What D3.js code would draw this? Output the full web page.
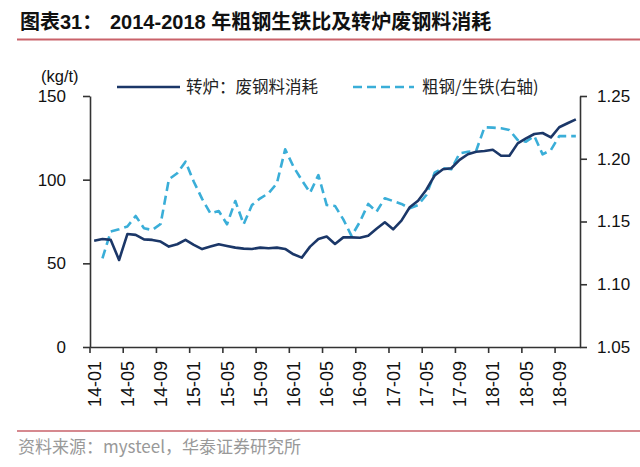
<!DOCTYPE html>
<html>
<head>
<meta charset="utf-8">
<script src="https://cdn.jsdelivr.net/npm/d3@7"></script>
<style>
  body { margin: 0; background: #fff; }
  svg { display: block; font-family: "Liberation Sans", Arial, "Noto Sans CJK SC", sans-serif; }
</style>
</head>
<body>
<svg id="chart" width="640" height="467"></svg>
<script>
const months = [
  "14-01","14-02","14-03","14-04","14-05","14-06","14-07","14-08","14-09","14-10","14-11","14-12",
  "15-01","15-02","15-03","15-04","15-05","15-06","15-07","15-08","15-09","15-10","15-11","15-12",
  "16-01","16-02","16-03","16-04","16-05","16-06","16-07","16-08","16-09","16-10","16-11","16-12",
  "17-01","17-02","17-03","17-04","17-05","17-06","17-07","17-08","17-09","17-10","17-11","17-12",
  "18-01","18-02","18-03","18-04","18-05","18-06","18-07","18-08","18-09","18-10","18-11"
];

// 转炉：废钢料消耗 (kg/t), left axis
const scrapUse = [
  63.5, 64.5, 64, 52, 67.5, 67, 64.3, 64, 63, 60, 61.4, 64,
  61, 58.5, 60, 61.4, 60.4, 59.4, 58.8, 58.6, 59.4, 59, 59.4, 58.6,
  55.4, 53.4, 60, 64.5, 66, 61.6, 65.5, 65.5, 65.3, 66.5, 70.7, 74.5,
  70.3, 75.5, 83.5, 87.4, 94, 102.5, 106.2, 106.8, 111.8, 115.2, 116.7, 117.1,
  117.9, 114.3, 114.3, 121.7, 124.7, 127.3, 127.9, 125.3, 131.3, 133.7, 136
];

// 粗钢/生铁, right axis
const steelIronRatio = [
  null, 1.1207, 1.142, 1.1438, 1.146, 1.1544, 1.1446, 1.1432, 1.148, 1.1836, 1.1884, 1.1977,
  1.1817, 1.168, 1.1565, 1.1584, 1.1478, 1.1663, 1.1478, 1.1631, 1.1685, 1.1725, 1.1804, 1.2075,
  1.1937, 1.183, 1.173, 1.187, 1.1631, 1.1624, 1.1517, 1.1384, 1.1498, 1.164, 1.1578, 1.1685,
  1.1663, 1.164, 1.1605, 1.1631, 1.1711, 1.1889, 1.1924, 1.1916, 1.2043, 1.2056, 1.2064, 1.2251,
  1.2248, 1.2243, 1.2229, 1.2149, 1.2136, 1.2181, 1.2035, 1.207, 1.218, 1.218, 1.218
];

const leftTicks = [0, 50, 100, 150];
const rightTicks = [1.05, 1.10, 1.15, 1.20, 1.25];
const xTickLabels = months.filter((m, i) => i % 4 === 0);

const solidColor = "#1b3768";
const dashColor = "#3aaed8";
const redLine = "#c9626a";

const svg = d3.select("#chart");
const plot = { left: 90, right: 580, top: 96, bottom: 347 };

const x = d3.scaleBand().domain(months).range([plot.left, plot.right]).padding(0);
const xc = (m) => x(m) + x.bandwidth() / 2;
const yL = d3.scaleLinear().domain([0, 150]).range([plot.bottom, plot.top]);
const yR = d3.scaleLinear().domain([1.05, 1.25]).range([plot.bottom, plot.top]);

// title
svg.append("text").attr("x", 20).attr("y", 29)
  .style("font-size", "20px").style("font-weight", "bold").attr("fill", "#111")
  .text("图表31：");
svg.append("text").attr("x", 110).attr("y", 29)
  .style("font-size", "20px").style("font-weight", "bold").attr("fill", "#111")
  .text("2014-2018 年粗钢生铁比及转炉废钢料消耗");
svg.append("line").attr("x1", 17).attr("x2", 640).attr("y1", 39.5).attr("y2", 39.5)
  .attr("stroke", redLine).attr("stroke-width", 2.2);

// axes
const axisColor = "#333";
const gL = svg.append("g").attr("transform", `translate(${plot.left},0)`)
  .call(d3.axisLeft(yL).tickValues(leftTicks).tickSize(7).tickSizeOuter(0).tickPadding(17));
const gR = svg.append("g").attr("transform", `translate(${plot.right},0)`)
  .call(d3.axisRight(yR).tickValues(rightTicks).tickSize(7).tickSizeOuter(0).tickPadding(10)
    .tickFormat(d3.format(".2f")));
const gX = svg.append("g").attr("transform", `translate(0,${plot.bottom})`)
  .call(d3.axisBottom(x).tickValues(xTickLabels).tickSize(6).tickSizeOuter(0));

gX.selectAll(".tick line").attr("x1", -x.bandwidth() / 2).attr("x2", -x.bandwidth() / 2);
gX.selectAll(".tick text")
  .attr("transform", "rotate(-90)")
  .attr("x", -14).attr("y", 0).attr("dy", "0.36em")
  .style("text-anchor", "end");

[gL, gR, gX].forEach((g) => {
  g.select(".domain").attr("stroke", axisColor).attr("stroke-width", 1.6);
  g.selectAll(".tick line").attr("stroke", axisColor).attr("stroke-width", 1.6);
  g.selectAll(".tick text").attr("fill", "#111").style("font-family", "Liberation Sans, Arial, sans-serif");
});
gL.selectAll(".tick text").style("font-size", "17px");
gR.selectAll(".tick text").style("font-size", "17px");
gX.selectAll(".tick text").style("font-size", "18px");

// unit label
svg.append("text").attr("x", 41).attr("y", 82)
  .style("font-size", "16.5px").attr("fill", "#111").text("(kg/t)");

// lines
const scrapLine = d3.line()
  .x((d, i) => xc(months[i]))
  .y((d) => yL(d));
const ratioLine = d3.line()
  .defined((d) => d != null)
  .x((d, i) => xc(months[i]))
  .y((d) => yR(d));

svg.append("path").datum(steelIronRatio)
  .attr("d", ratioLine).attr("fill", "none")
  .attr("stroke", dashColor).attr("stroke-width", 2.6)
  .attr("stroke-dasharray", "9,5").attr("stroke-linejoin", "round");

svg.append("path").datum(scrapUse)
  .attr("d", scrapLine).attr("fill", "none")
  .attr("stroke", solidColor).attr("stroke-width", 2.6)
  .attr("stroke-linejoin", "round");

// legend
const legendY = 87;
svg.append("line").attr("x1", 117).attr("x2", 180).attr("y1", legendY).attr("y2", legendY)
  .attr("stroke", solidColor).attr("stroke-width", 2.6);
svg.append("text").attr("x", 186).attr("y", legendY + 6)
  .style("font-family", "Noto Sans CJK SC, sans-serif").style("font-size", "16.5px")
  .attr("fill", "#222").text("转炉：废钢料消耗");
svg.append("line").attr("x1", 353).attr("x2", 414).attr("y1", legendY).attr("y2", legendY)
  .attr("stroke", dashColor).attr("stroke-width", 2.6).attr("stroke-dasharray", "9,5");
svg.append("text").attr("x", 422).attr("y", legendY + 6)
  .style("font-family", "Noto Sans CJK SC, sans-serif").style("font-size", "16.5px")
  .attr("fill", "#222").text("粗钢/生铁(右轴)");

// footer
svg.append("line").attr("x1", 17).attr("x2", 640).attr("y1", 431).attr("y2", 431)
  .attr("stroke", redLine).attr("stroke-width", 1.6);
svg.append("text").attr("x", 18).attr("y", 453)
  .style("font-family", "Noto Sans CJK SC, sans-serif").style("font-size", "17px")
  .attr("fill", "#999").text("资料来源：mysteel，华泰证券研究所");
</script>
</body>
</html>
